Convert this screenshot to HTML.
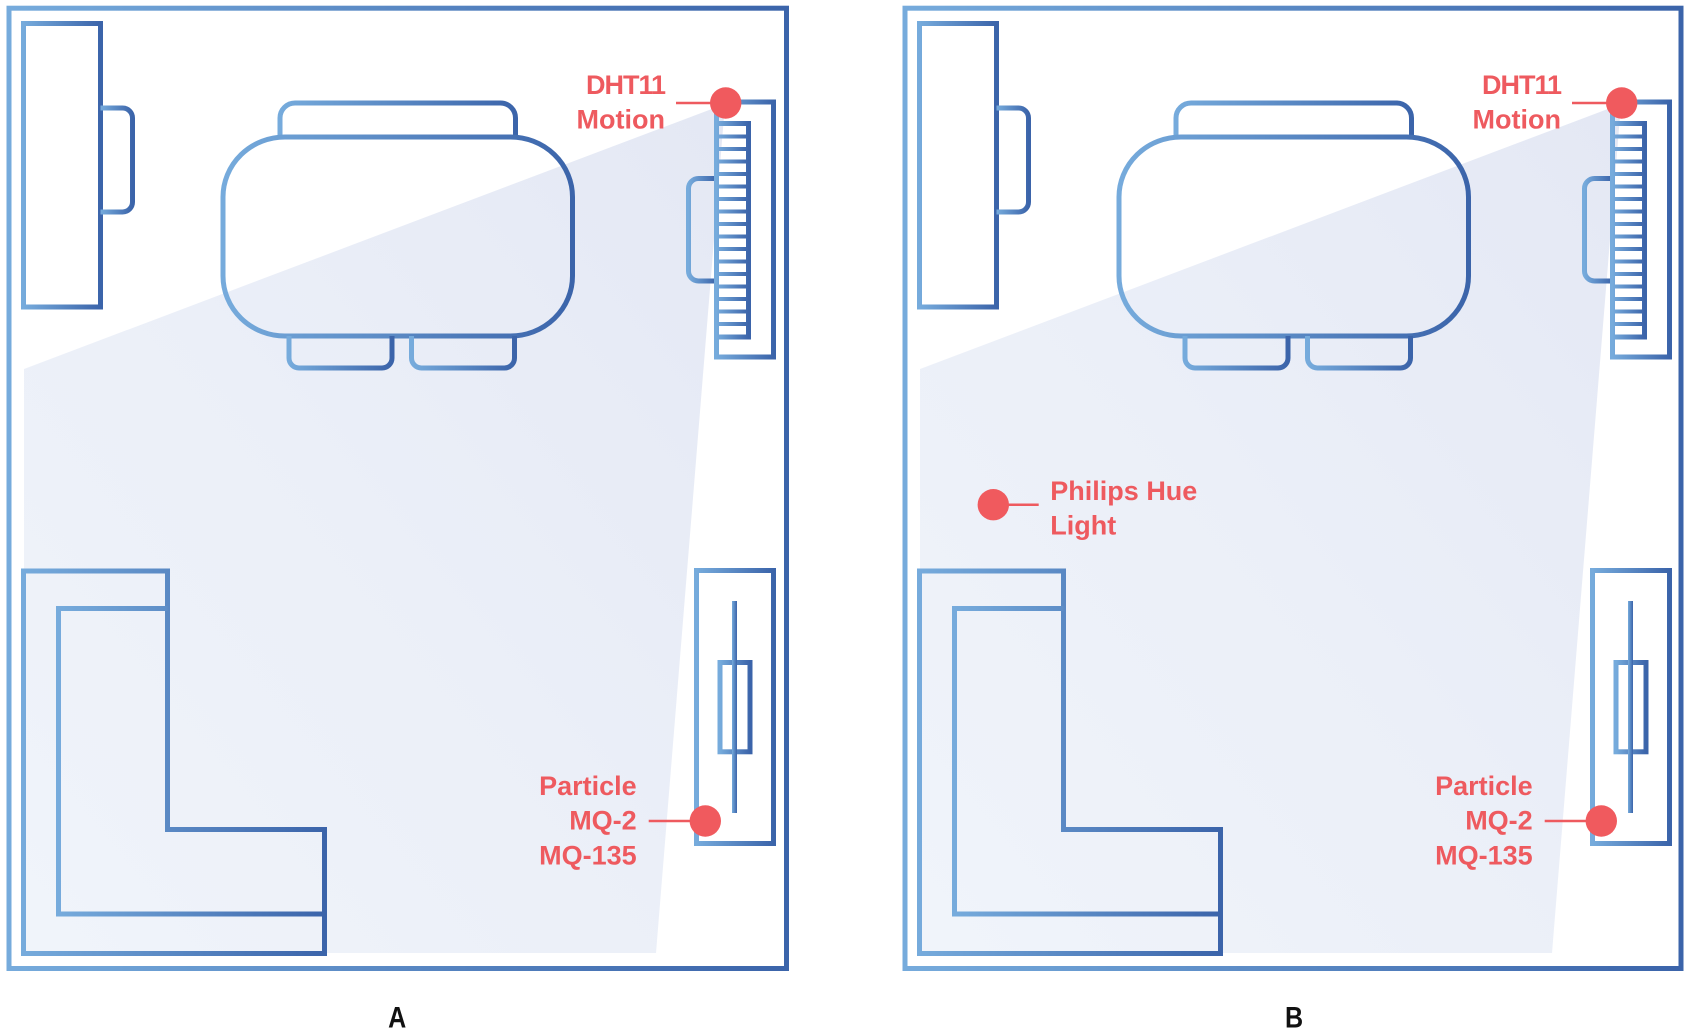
<!DOCTYPE html>
<html>
<head>
<meta charset="utf-8">
<style>
  html, body { margin: 0; padding: 0; background: #ffffff; }
  body { width: 1691px; height: 1035px; overflow: hidden; }
  svg { display: block; }
  .lbl { font-family: "Liberation Sans", "DejaVu Sans", sans-serif; font-weight: bold; fill: #ee5a5f; font-size: 27px; }
  .cap { font-family: "Liberation Sans", "DejaVu Sans", sans-serif; font-weight: bold; fill: #111111; font-size: 29.5px; }
</style>
</head>
<body>
<svg width="1691" height="1035" viewBox="0 0 1691 1035" xmlns="http://www.w3.org/2000/svg">
  <defs>
    <linearGradient id="gs" x1="0" y1="0" x2="1" y2="0">
      <stop offset="0" stop-color="#76abdc"/>
      <stop offset="1" stop-color="#3b64aa"/>
    </linearGradient>
    <linearGradient id="cone" x1="1" y1="0" x2="0" y2="1">
      <stop offset="0" stop-color="#e4e8f4"/>
      <stop offset="0.5" stop-color="#ebeff8"/>
      <stop offset="1" stop-color="#f0f4fa"/>
    </linearGradient>

    <g id="furn">
      <!-- light cone -->
      <polygon points="725,104 656,953 24,953 24,369" fill="url(#cone)"/>
      <!-- tall rectangle + tab -->
      <rect x="23.5" y="23.5" width="77" height="283.5" fill="none" stroke="url(#gs)" stroke-width="5"/>
      <path d="M100.5,108 H122.5 A10,10 0 0 1 132.5,118 V202 A10,10 0 0 1 122.5,212 H100.5" fill="none" stroke="url(#gs)" stroke-width="5"/>
      <!-- table + chairs -->
      <path d="M280,137 V118 A15,15 0 0 1 295,103 H500.5 A15,15 0 0 1 515.5,118 V137" fill="none" stroke="url(#gs)" stroke-width="5"/>
      <rect x="223" y="137" width="349.5" height="199" rx="62" ry="60" fill="none" stroke="url(#gs)" stroke-width="5"/>
      <path d="M289,336 V358 A10,10 0 0 0 299,368 H382 A10,10 0 0 0 392,358 V336" fill="none" stroke="url(#gs)" stroke-width="5"/>
      <path d="M411.5,336 V358 A10,10 0 0 0 421.5,368 H504.5 A10,10 0 0 0 514.5,358 V336" fill="none" stroke="url(#gs)" stroke-width="5"/>
      <!-- right cabinet with ladder -->
      <path d="M716.5,178.5 H698.5 A10,10 0 0 0 688.5,188.5 V271 A10,10 0 0 0 698.5,281 H716.5" fill="none" stroke="url(#gs)" stroke-width="5"/>
      <rect x="716.5" y="102" width="57" height="255" fill="none" stroke="url(#gs)" stroke-width="5"/>
      <rect x="716.5" y="123.5" width="32" height="213.5" fill="none" stroke="url(#gs)" stroke-width="5"/>
      <rect x="716.5" y="134.5" width="32" height="4" fill="url(#gs)"/>
      <rect x="716.5" y="147" width="32" height="4" fill="url(#gs)"/>
      <rect x="716.5" y="159.5" width="32" height="4" fill="url(#gs)"/>
      <rect x="716.5" y="172" width="32" height="4" fill="url(#gs)"/>
      <rect x="716.5" y="184.5" width="32" height="4" fill="url(#gs)"/>
      <rect x="716.5" y="197" width="32" height="4" fill="url(#gs)"/>
      <rect x="716.5" y="209.5" width="32" height="4" fill="url(#gs)"/>
      <rect x="716.5" y="222" width="32" height="4" fill="url(#gs)"/>
      <rect x="716.5" y="234.5" width="32" height="4" fill="url(#gs)"/>
      <rect x="716.5" y="247" width="32" height="4" fill="url(#gs)"/>
      <rect x="716.5" y="259.5" width="32" height="4" fill="url(#gs)"/>
      <rect x="716.5" y="272" width="32" height="4" fill="url(#gs)"/>
      <rect x="716.5" y="284.5" width="32" height="4" fill="url(#gs)"/>
      <rect x="716.5" y="297" width="32" height="4" fill="url(#gs)"/>
      <rect x="716.5" y="309.5" width="32" height="4" fill="url(#gs)"/>
      <rect x="716.5" y="322" width="32" height="4" fill="url(#gs)"/>
      <!-- L sofa -->
      <path d="M23.5,571 H167.5 V829.5 H324.5 V953.5 H23.5 Z" fill="none" stroke="url(#gs)" stroke-width="5"/>
      <path d="M167.5,608.5 H58.5 V914 H324.5" fill="none" stroke="url(#gs)" stroke-width="5"/>
      <!-- bottom right cabinet -->
      <rect x="696.5" y="570.5" width="77" height="273" fill="none" stroke="url(#gs)" stroke-width="5"/>
      <rect x="720" y="662.5" width="30" height="89.3" fill="none" stroke="url(#gs)" stroke-width="5"/>
      <rect x="732" y="601" width="5" height="212" fill="url(#gs)"/>
      <!-- sensor markers -->
      <line x1="676" y1="103" x2="712" y2="103" stroke="#ee5a5f" stroke-width="2.5"/>
      <circle cx="725.7" cy="103" r="15.7" fill="#f05a5e"/>
      <line x1="648.7" y1="821" x2="692" y2="821" stroke="#ee5a5f" stroke-width="2.5"/>
      <circle cx="705.3" cy="821" r="15.7" fill="#f05a5e"/>
    </g>
  </defs>

  <rect x="0" y="0" width="1691" height="1035" fill="#ffffff"/>

  <!-- Panel A -->
  <use href="#furn"/>
  <rect x="9" y="8.2" width="777.5" height="960.3" fill="none" stroke="url(#gs)" stroke-width="5"/>
  <text class="lbl" x="665" y="94" text-anchor="end" letter-spacing="-1">DHT11</text>
  <text class="lbl" x="665" y="128.3" text-anchor="end">Motion</text>
  <text class="lbl" x="636.7" y="795" text-anchor="end">Particle</text>
  <text class="lbl" x="636.7" y="829.3" text-anchor="end">MQ-2</text>
  <text class="lbl" x="636.7" y="864.3" text-anchor="end">MQ-135</text>
  <text class="cap" x="0" y="0" text-anchor="middle" transform="translate(397.2,1027.7) scale(0.85,1)">A</text>

  <!-- Panel B -->
  <use href="#furn" transform="translate(896,0)"/>
  <rect x="905" y="8.2" width="776" height="960.3" fill="none" stroke="url(#gs)" stroke-width="5"/>
  <text class="lbl" x="1561" y="94" text-anchor="end" letter-spacing="-1">DHT11</text>
  <text class="lbl" x="1561" y="128.3" text-anchor="end">Motion</text>
  <text class="lbl" x="1532.7" y="795" text-anchor="end">Particle</text>
  <text class="lbl" x="1532.7" y="829.3" text-anchor="end">MQ-2</text>
  <text class="lbl" x="1532.7" y="864.3" text-anchor="end">MQ-135</text>
  <line x1="1000" y1="504.7" x2="1038.7" y2="504.7" stroke="#ee5a5f" stroke-width="2.5"/>
  <circle cx="993.3" cy="504.7" r="15.7" fill="#f05a5e"/>
  <text class="lbl" x="1050.3" y="500">Philips Hue</text>
  <text class="lbl" x="1050.3" y="534.3">Light</text>
  <text class="cap" x="0" y="0" text-anchor="middle" transform="translate(1294,1027.7) scale(0.85,1)">B</text>
</svg>
</body>
</html>
